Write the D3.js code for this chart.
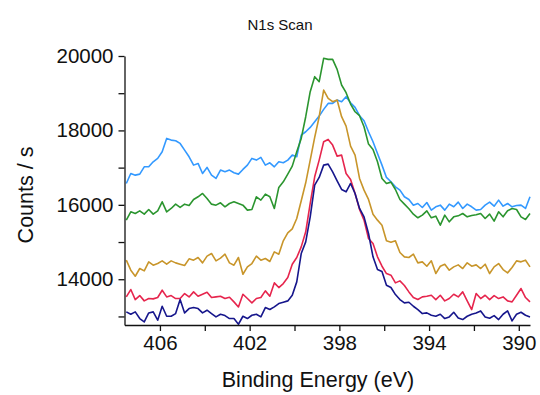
<!DOCTYPE html>
<html>
<head>
<meta charset="utf-8">
<script src="https://cdn.jsdelivr.net/npm/d3@7"></script>
<style>
  body { margin: 0; background: #fff; }
  svg text { font-family: "Liberation Sans", Arial, sans-serif; fill: #111; }
</style>
</head>
<body>
<div id="chart"></div>
<script>
// N1s scan, binding energy grid (eV), 0.2 eV step from 407.5 down to 389.5
const eStart = 407.5;
const eStep = 0.2;
const energies = d3.range(91).map(i => +(eStart - i * eStep).toFixed(1));

const blue = [16574,16843,16798,16825,17022,17022,17157,17247,17426,17785,
  17740,17722,17650,17471,17292,17067,17112,16843,17004,16798,
  16709,16933,16888,16933,16861,16825,16951,17067,17247,17202,
  17274,17067,17130,17022,17157,17130,17202,17336,17292,17874,
  17964,18081,18233,18385,18565,18726,18726,18816,18771,18906,
  18744,18619,18395,18260,17964,17695,17381,17067,16736,16619,
  16485,16395,16216,16144,15991,16036,15928,16063,15857,15947,
  15991,15857,16018,15947,16072,15902,16018,15947,15857,15875,
  15991,16072,15964,16126,15964,16036,15947,15982,15991,15902,16215];

const green = [15588,15812,15767,15839,15749,15875,15749,15839,16081,15812,
  15902,16018,15929,16018,15982,16144,16216,16305,16171,16018,
  15991,16054,15947,16036,16081,16036,15991,15857,15875,16216,
  16126,16287,16216,15902,16467,16619,16825,17040,17426,17785,
  18368,19040,19444,19309,19937,19910,19910,19641,19220,19013,
  18708,18502,18395,18099,17632,17489,17157,16709,16574,16610,
  16413,16144,16018,15893,15749,15651,15722,15839,15651,15695,
  15453,15722,15543,15677,15704,15767,15677,15713,15731,15767,
  15633,15749,15561,15812,15677,15839,15902,15875,15677,15606,15767];

const gold = [14512,14243,14081,14288,14225,14467,14377,14422,14494,14404,
  14494,14440,14404,14368,14548,14512,14584,14440,14620,14691,
  14494,14566,14673,14440,14377,14584,14135,14332,14422,14620,
  14512,14557,14476,14736,14673,15032,15247,15355,15633,16108,
  16592,17202,17812,18368,19085,18861,18771,18816,18368,18117,
  17579,17336,16709,16395,16144,15749,15588,15453,15032,14996,
  15032,14718,14602,14584,14673,14440,14467,14350,14494,14153,
  14350,14404,14243,14332,14386,14288,14440,14350,14386,14288,
  14404,14153,14332,14422,14261,14171,14315,14494,14467,14512,14332];

const red = [13525,13723,13454,13561,13418,13481,13472,13508,13705,13525,
  13561,13481,13481,13615,13525,13660,13543,13597,13651,13508,
  13525,13543,13481,13516,13391,13256,13597,13481,13364,13481,
  13508,13687,13543,13902,13777,13884,14046,14404,14584,14870,
  15274,16036,16754,17202,17695,17758,17605,17309,17336,16843,
  16682,16305,15875,15588,15095,14960,14602,14350,14153,14108,
  13902,13956,13830,13660,13508,13454,13525,13543,13570,13454,
  13570,13418,13481,13597,13525,13660,13418,13185,13615,13481,
  13570,13454,13561,13481,13525,13418,13391,13570,13750,13508,13391];

const navy = [13122,13059,13122,12943,12853,13095,13122,12898,13274,13005,
  13005,13077,13454,13095,13212,13239,13212,13095,13167,13077,
  12987,13059,13023,12943,12943,12790,13005,12943,13032,13059,
  12987,13239,13185,13256,13346,13382,13418,13570,13929,14691,
  15005,15678,16529,16736,17067,17094,16888,16646,16413,16350,
  16574,16305,15902,15677,15229,14602,14261,14207,13839,13777,
  13588,13454,13364,13382,13274,13185,13077,13095,13032,13005,
  13059,12943,12987,13113,12960,12916,13005,13059,13095,13149,
  12987,12951,13023,12916,13059,13149,12880,13059,13113,13032,12987];

const seriesList = [
  { name: "blue", values: blue, color: "#3399ff" },
  { name: "green", values: green, color: "#2b952f" },
  { name: "gold", values: gold, color: "#c8952a" },
  { name: "red", values: red, color: "#e6254d" },
  { name: "navy", values: navy, color: "#16168c" }
];

const xTicks = [406, 404, 402, 400, 398, 396, 394, 392, 390];
const yTicks = [13000, 14000, 15000, 16000, 17000, 18000, 19000, 20000];
const xLabeled = [406, 402, 398, 394, 390];
const yLabeled = [14000, 16000, 18000, 20000];

const width = 540, height = 395;
const margin = { top: 56, right: 10, bottom: 70, left: 124.5 };

const svg = d3.select("#chart").append("svg")
  .attr("width", width)
  .attr("height", height);

const x = d3.scaleLinear()
  .domain([407.58, 389.5])
  .range([margin.left, width - margin.right]);

const y = d3.scaleLinear()
  .domain([12770, 20000])
  .range([height - margin.bottom, margin.top]);

// lines
const line = d3.line()
  .x((d, i) => x(energies[i]))
  .y(d => y(d));

svg.append("g").selectAll("path")
  .data(seriesList)
  .enter()
  .append("path")
  .attr("d", d => line(d.values))
  .attr("fill", "none")
  .attr("stroke", d => d.color)
  .attr("stroke-width", 1.6)
  .attr("stroke-linejoin", "round");

// x axis
const xAxis = svg.append("g")
  .attr("transform", "translate(0," + (height - margin.bottom) + ")")
  .call(d3.axisBottom(x).tickValues(xTicks).tickSize(6).tickSizeOuter(0)
    .tickFormat(d => xLabeled.includes(d) ? d : ""));
xAxis.selectAll("text").style("font-size", "20.5px").attr("y", 9).attr("dy", "0.8em");

// y axis
const yAxis = svg.append("g")
  .attr("transform", "translate(" + margin.left + ",0)")
  .call(d3.axisLeft(y).tickValues(yTicks).tickSize(6).tickSizeOuter(0)
    .tickFormat(d => yLabeled.includes(d) ? d : ""));
yAxis.selectAll("text").style("font-size", "20.5px").attr("x", -11);

svg.selectAll(".domain, .tick line")
  .attr("stroke", "#111")
  .attr("stroke-width", 1.3);

// titles
svg.append("text")
  .attr("x", 280)
  .attr("y", 30)
  .attr("text-anchor", "middle")
  .style("font-size", "15px")
  .text("N1s Scan");

svg.append("text")
  .attr("x", 318)
  .attr("y", 387)
  .attr("text-anchor", "middle")
  .style("font-size", "21.5px")
  .text("Binding Energy (eV)");

svg.append("text")
  .attr("transform", "translate(33,195) rotate(-90)")
  .attr("text-anchor", "middle")
  .style("font-size", "21.5px")
  .text("Counts / s");
</script>
</body>
</html>
